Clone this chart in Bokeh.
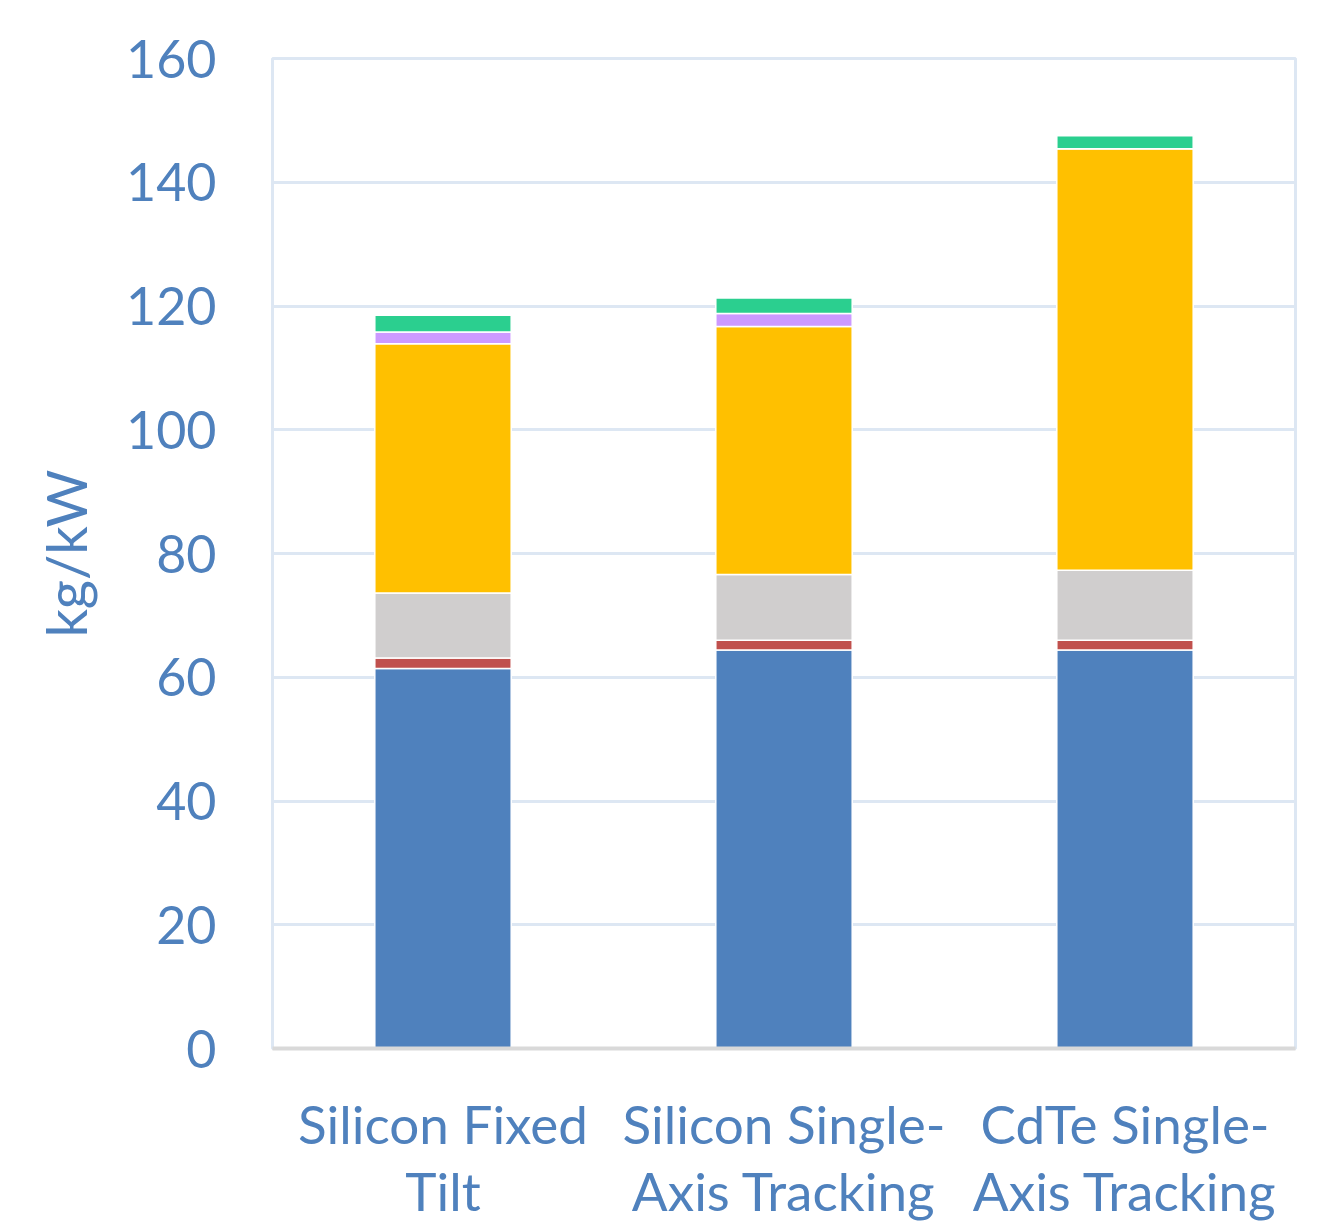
from bokeh.plotting import figure
from bokeh.models import FactorRange, Range1d, SingleIntervalTicker, CategoricalAxis
from bokeh.embed import file_html
from bokeh.resources import INLINE

categories = ["Silicon Fixed Tilt", "Silicon Single-Axis Tracking", "CdTe Single-Axis Tracking"]
label_line1 = ["Silicon Fixed", "Silicon Single-", "CdTe Single-"]
label_line2 = ["Tilt", "Axis Tracking", "Axis Tracking"]
series_names = ["s1", "s2", "s3", "s4", "s5", "s6"]
s1 = [61.4, 64.4, 64.4]
s2 = [1.7, 1.6, 1.6]
s3 = [10.5, 10.6, 11.3]
s4 = [40.3, 40.1, 68.1]
s5 = [1.9, 2.1, 0.0]
s6 = [2.7, 2.5, 2.1]
colors = ["#4f81bd", "#c0504d", "#d0cece", "#ffc000", "#cc99ff", "#2bcf8f"]

FONT = "Lato"
TXT = "#4f81bd"

p = figure(width=1329, height=1224, x_range=FactorRange(*categories, range_padding=0),
           y_range=Range1d(0, 160), output_backend="svg", toolbar_location=None,
           min_border_left=272, min_border_right=34, min_border_top=58, min_border_bottom=174)
p.extra_x_ranges = {
    "l1": FactorRange(*label_line1, range_padding=0),
    "l2": FactorRange(*zip(categories, label_line2), range_padding=0,
                      group_padding=0, factor_padding=0),
}

data = {"cat": categories}
for n, s in zip(series_names, [s1, s2, s3, s4, s5, s6]):
    data[n] = s
p.vbar_stack(series_names, x="cat", width=0.4, color=colors, source=data,
             line_color="white", line_width=1.5)

p.outline_line_color = "#dde7f3"
p.outline_line_width = 3
p.xgrid.grid_line_color = None
p.ygrid.grid_line_color = "#dde7f3"
p.ygrid.grid_line_width = 3
p.yaxis.ticker = SingleIntervalTicker(interval=20)

p.yaxis.axis_line_color = None
p.yaxis.major_tick_line_color = None
p.yaxis.minor_tick_line_color = None
p.yaxis.major_label_text_font = FONT
p.yaxis.major_label_text_font_size = "52px"
p.yaxis.major_label_text_color = TXT
p.yaxis.major_label_standoff = 50
p.yaxis.axis_label = "kg/kW"
p.yaxis.axis_label_text_font = FONT
p.yaxis.axis_label_text_font_size = "56px"
p.yaxis.axis_label_text_font_style = "normal"
p.yaxis.axis_label_text_color = TXT
p.yaxis.axis_label_standoff = 24

xa = p.xaxis[0]
xa.x_range_name = "l1"
xa.axis_line_color = "#d9d9d9"
xa.axis_line_width = 4
xa.major_tick_line_color = None
xa.minor_tick_line_color = None
xa.major_label_text_font = FONT
xa.major_label_text_font_size = "53px"
xa.major_label_text_color = TXT
xa.major_label_standoff = 37

xa2 = CategoricalAxis(x_range_name="l2")
xa2.axis_line_color = None
xa2.major_tick_line_color = None
xa2.minor_tick_line_color = None
xa2.separator_line_color = None
xa2.major_label_text_font = FONT
xa2.major_label_text_font_size = "53px"
xa2.major_label_text_color = TXT
xa2.major_label_standoff = -5
xa2.group_text_font_size = "0px"
xa2.group_text_alpha = 0
p.add_layout(xa2, "below")

open("out.html", "w").write(file_html(p, INLINE))
